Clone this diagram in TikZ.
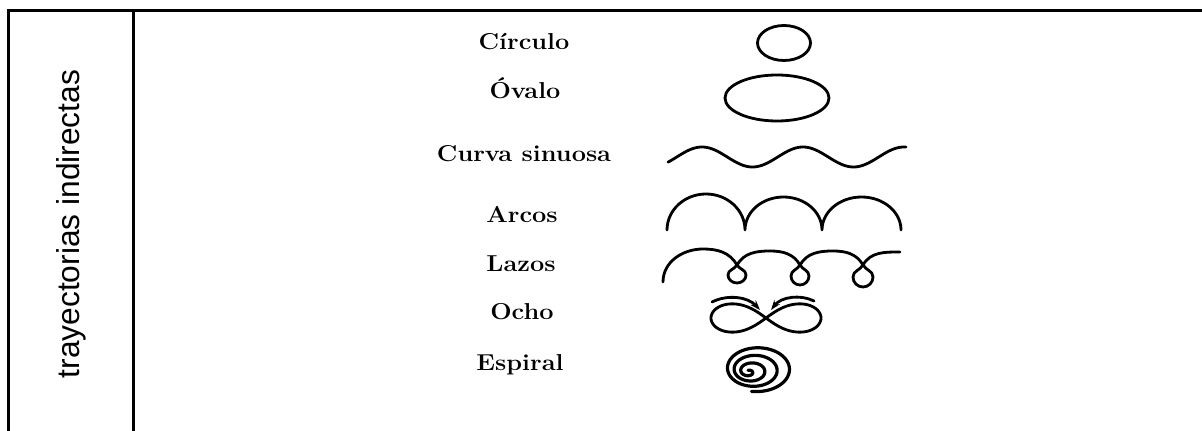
\documentclass[tikz,border=0pt]{standalone}
\usepackage{fontspec}
\newfontfamily\arialf{Liberation Sans}
\usetikzlibrary{arrows.meta}
\begin{document}
\begin{tikzpicture}[x=1pt,y=1pt,
  frame/.style={line width=3pt, line join=miter},
  figline/.style={line width=2.8pt, line cap=round, line join=round},
  lbl/.style={font=\fontsize{23}{27}\selectfont\bfseries, anchor=base, inner sep=0pt},
  declare function={sr(\t)=2+9.5*\t/360;}]
\useasboundingbox (0,0) rectangle (1202,431);
\fill[white] (0,0) rectangle (1202,431);
% frame
\draw[frame] (8,0) -- (8,420) -- (1202,420);
\draw[frame] (133,420) -- (133,0);
% vertical title
\node[rotate=90, anchor=base, inner sep=0pt, font=\arialf\fontsize{31.7}{36}\selectfont] (vt) at (79,207) {trayectorias indirectas};
% labels
\node[lbl] (circulo) at (524,381) {\scalebox{1.1}[1]{Círculo}};
\node[lbl] (ovalo)   at (525,332) {\scalebox{1.1}[1]{Óvalo}};
\node[lbl] (curva)   at (524,269) {\scalebox{1.1}[1]{Curva sinuosa}};
\node[lbl] (arcos)   at (522,208) {\scalebox{1.1}[1]{Arcos}};
\node[lbl] (lazos)   at (521,159) {\scalebox{1.1}[1]{Lazos}};
\node[lbl] (ocho)    at (522,111) {\scalebox{1.1}[1]{Ocho}};
\node[lbl] (espiral) at (520,60)  {\scalebox{1.1}[1]{Espiral}};
% circle and oval
\draw[figline] (784,388) ellipse[x radius=26.5, y radius=17.5];
\draw[figline] (777,333) ellipse[x radius=52, y radius=23];
% sine curve
\draw[figline] plot[domain=668:906, samples=120, smooth] (\x, {274+10*cos(3.5644*(\x-702))});
% arches
\draw[figline] (667,201) arc[start angle=180, end angle=0, x radius=39, y radius=36]
  arc[start angle=180, end angle=0, x radius=38.5, y radius=33]
  arc[start angle=180, end angle=0, x radius=39.5, y radius=33];
% loops
\draw[figline] (663,149) to[out=90,in=180] (703,182) to[out=0,in=120] (737,166)
  to[out=-60,in=90] (746,156) to[out=-90,in=0] (737,148) to[out=180,in=-90] (728,156) to[out=90,in=240] (737,166)
  to[out=60,in=180] (770,180) to[out=0,in=120] (800,166)
  to[out=-60,in=90] (809,155) to[out=-90,in=0] (800,146) to[out=180,in=-90] (791,155) to[out=90,in=240] (800,166)
  to[out=60,in=180] (833,180) to[out=0,in=120] (863,166)
  to[out=-60,in=90] (873,154) to[out=-90,in=0] (863,144) to[out=180,in=-90] (853,154) to[out=90,in=240] (863,166)
  to[out=60,in=180] (900,179);
% figure eight
\draw[figline] plot[domain=0:360, samples=200, smooth] ({766+55*cos(\x)/(1+sin(\x)*sin(\x))}, {113+40*sin(\x)*cos(\x)/(1+sin(\x)*sin(\x))});
\draw[figline, -{Stealth[length=10pt,width=7pt]}] (712,129) .. controls (728,137) and (748,134) .. (760,121);
\draw[figline, -{Stealth[length=10pt,width=7pt]}] (814,130) .. controls (800,137) and (781,134) .. (771,121);
% spiral
\draw[figline, line width=3.2pt] plot[domain=0:1260, samples=400, smooth] ({747+0.3*sr(\x)+sr(\x)*cos(1160-\x)}, {59+0.12*sr(\x)+0.68*sr(\x)*sin(1160-\x)});
\end{tikzpicture}
\end{document}
